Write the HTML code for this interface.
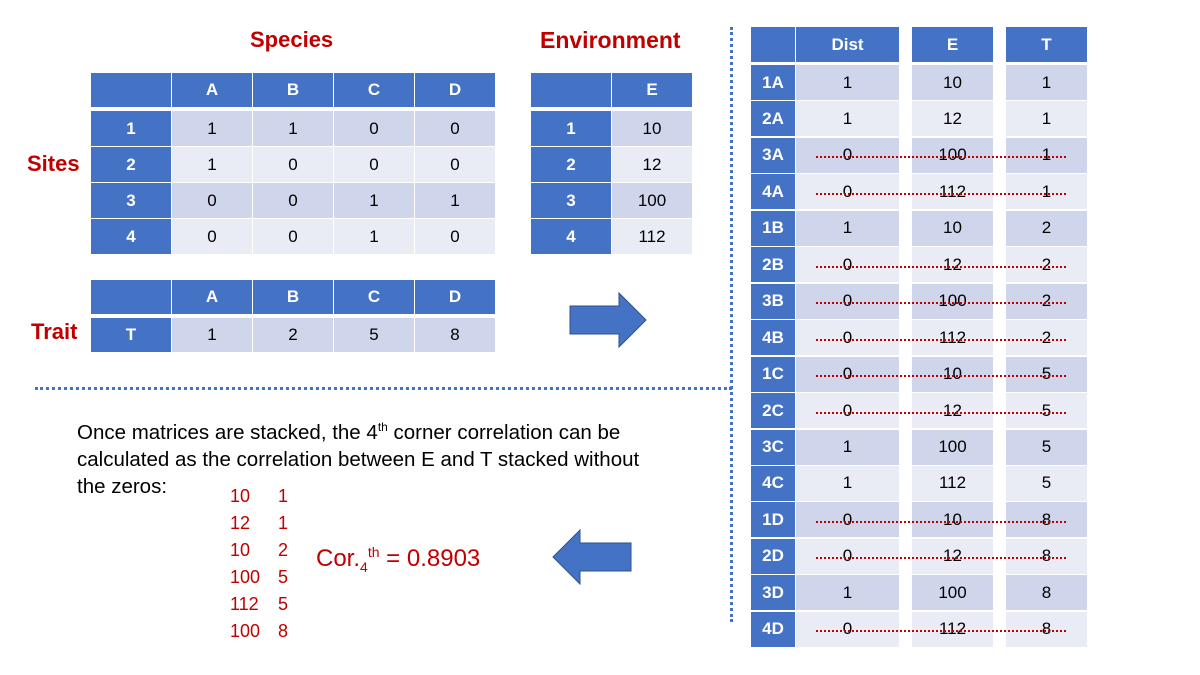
<!DOCTYPE html>
<html><head><meta charset="utf-8"><style>
body{margin:0;width:1200px;height:675px;background:#fff;position:relative;overflow:hidden;font-family:"Liberation Sans",sans-serif}
.c{position:absolute;display:flex;align-items:center;justify-content:center;box-sizing:border-box;font-size:17px;color:#000}
.h{background:#4472c4;color:#fff;font-weight:bold}
.d1{background:#cfd5ea}.d2{background:#e9ebf5}
.t{position:absolute;color:#c00000;font-weight:bold;font-size:22px}
.strike{position:absolute;border-top:2px dotted #c00000;height:0}
</style></head><body>
<div class="t" style="left:250px;top:27px">Species</div>
<div class="t" style="left:540px;top:27px;font-size:23px">Environment</div>
<div class="t" style="left:27px;top:151px">Sites</div>
<div class="t" style="left:31px;top:319px">Trait</div>
<div style="position:absolute;left:730px;top:27px;height:595px;border-left:3px dotted #4472c4"></div>
<div style="position:absolute;left:35px;top:387px;width:697px;border-top:3px dotted #4472c4"></div>
<svg style="position:absolute;left:569px;top:292px" width="80" height="56"><polygon points="1,14 50,14 50,1 77,28 50,55 50,42 1,42" fill="#4472c4" stroke="#2f528f" stroke-width="1"/></svg>
<svg style="position:absolute;left:552px;top:529px" width="80" height="56"><polygon points="79,14 28,14 28,1 1,28 28,55 28,42 79,42" fill="#4472c4" stroke="#2f528f" stroke-width="1"/></svg>
<div style="position:absolute;left:77px;top:419px;font-size:20.5px;line-height:27px;white-space:nowrap">Once matrices are stacked, the 4<sup style="font-size:12px;line-height:0">th</sup> corner correlation can be<br>calculated as the correlation between E and T stacked without<br>the zeros:</div>
<div id="pairs"></div>
<div style="position:absolute;left:316px;top:544px;font-size:24px;color:#c00000">Cor.<sub style="font-size:14px">4</sub><sup style="font-size:14px">th</sup> = 0.8903</div>
<script>
const species=['A','B','C','D'];
const sites=['1','2','3','4'];
const occ=[[1,1,0,0],[1,0,0,0],[0,0,1,1],[0,0,1,0]];
const envE=[10,12,100,112];
const traitT=[1,2,5,8];
function cell(x,y,w,h,txt,cls,name){const d=document.createElement('div');d.className='c '+cls;
d.style.left=x+'px';d.style.top=y+'px';d.style.width=w+'px';d.style.height=h+'px';d.textContent=txt;


document.body.appendChild(d);return d;}
const colX=[91,172,253,334,415],rowY=[111,147,183,219];
cell(91,73,80,34,'','h','species-header-corner');
species.forEach((s,i)=>cell(colX[i+1],73,80,34,s,'h','species-header-'+s));
sites.forEach((s,r)=>{cell(91,rowY[r],80,35,s,'h','site-label-'+s);
occ[r].forEach((v,i)=>cell(colX[i+1],rowY[r],80,35,v,r%2?'d2':'d1','occ-'+s+species[i]));});
cell(91,280,80,34,'','h','trait-header-corner');
species.forEach((s,i)=>cell(colX[i+1],280,80,34,s,'h','trait-header-'+s));
cell(91,318,80,34,'T','h','trait-row-label');
traitT.forEach((v,i)=>cell(colX[i+1],318,80,34,v,'d1','trait-'+species[i]));
cell(531,73,80,34,'','h','env-header-corner');cell(612,73,80,34,'E','h','env-header-E');
sites.forEach((s,r)=>{cell(531,rowY[r],80,35,s,'h','env-site-'+s);cell(612,rowY[r],80,35,envE[r],r%2?'d2':'d1','env-'+s);});
cell(751,27,44,35,'','h','stack-header-corner');
cell(796,27,103,35,'Dist','h','stack-header-dist');
cell(912,27,81,35,'E','h','stack-header-e');
cell(1006,27,81,35,'T','h','stack-header-t');
let k=0;const pairs=[];
species.forEach((s,si)=>sites.forEach((st,ri)=>{
 const y=65+k*36.45,h=35,cls=k%2?'d2':'d1',lab=st+s,v=occ[ri][si];
 cell(751,y,44,h,lab,'h','stack-label-'+lab);
 cell(796,y,103,h,v,cls,'stack-dist-'+lab);
 cell(912,y,81,h,envE[ri],cls,'stack-e-'+lab);
 cell(1006,y,81,h,traitT[si],cls,'stack-t-'+lab);
 if(!v){const l=document.createElement('div');l.className='strike';l.style.left='816px';l.style.width='250px';l.style.top=(y+h/2+1)+'px';
 
 
 document.body.appendChild(l);} else pairs.push([envE[ri],traitT[si]]);
 k++;}));
const P=document.getElementById('pairs');
pairs.forEach((p,i)=>{const d=document.createElement('div');d.style.cssText='position:absolute;left:230px;top:'+(486+i*27)+'px;font-size:18px;color:#c00000';
d.innerHTML=p[0]+'<span style="position:absolute;left:48px">'+p[1]+'</span>';


P.appendChild(d);});
</script>
</body></html>
